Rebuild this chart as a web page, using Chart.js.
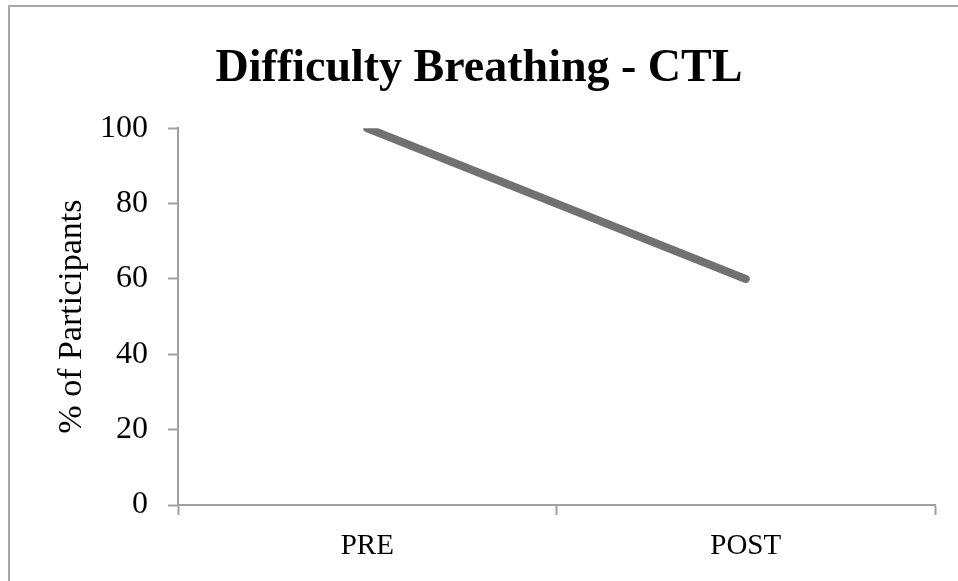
<!DOCTYPE html>
<html>
<head>
<meta charset="utf-8">
<script src="https://cdn.jsdelivr.net/npm/chart.js@4"></script>
<style>
  html, body { margin: 0; padding: 0; background: #fff; }
  #wrap { width: 958px; height: 581px; position: relative; }
</style>
</head>
<body>
<div id="wrap"><canvas id="chart"></canvas></div>
<script>
// chart data
const categories = ['PRE', 'POST'];
const participantPct = [100, 60];
const yTicks = [0, 20, 40, 60, 80, 100];

const axisGray = '#a0a0a0';
const serif = "'Liberation Serif', 'DejaVu Serif', serif";

// outer frame of the chart object (only top/left edges show in the crop)
const framePlugin = {
  id: 'frame',
  beforeDraw(chart) {
    const ctx = chart.ctx;
    ctx.save();
    ctx.strokeStyle = '#a6a6a6';
    ctx.lineWidth = 2;
    ctx.strokeRect(9, 6, 1000, 1000);
    ctx.restore();
  }
};

new Chart(document.getElementById('chart'), {
  type: 'line',
  data: {
    labels: categories,
    datasets: [{
      label: 'Difficulty Breathing',
      data: participantPct,
      borderColor: '#717171',
      borderWidth: 8,
      borderCapStyle: 'round',
      pointRadius: 0,
      tension: 0,
      fill: false
    }]
  },
  options: {
    responsive: true,
    maintainAspectRatio: false,
    animation: false,
    layout: { padding: { left: 23, right: 23, top: 0, bottom: 0 } },
    plugins: {
      legend: { display: false },
      tooltip: { enabled: false },
      title: {
        display: true,
        text: 'Difficulty Breathing - CTL',
        color: '#000',
        font: { family: serif, size: 46, weight: 'bold' },
        padding: { top: 42, bottom: 31 }
      }
    },
    scales: {
      x: {
        offset: true,
        grid: {
          offset: true,
          drawOnChartArea: false,
          drawTicks: true,
          tickLength: 10,
          tickWidth: 2,
          color: axisGray
        },
        border: { color: axisGray, width: 2 },
        ticks: {
          color: '#000',
          padding: 14,
          font: { family: serif, size: 29 }
        },
        afterFit(scale) { scale.height = 76; }
      },
      y: {
        min: 0,
        max: 100,
        afterBuildTicks(scale) { scale.ticks = yTicks.map(v => ({ value: v })); },
        grid: {
          drawOnChartArea: false,
          tickLength: 10,
          tickWidth: 2,
          color: axisGray
        },
        border: { color: axisGray, width: 2 },
        ticks: {
          color: '#000',
          padding: 20,
          font: { family: serif, size: 32 }
        },
        title: {
          display: true,
          text: '% of Participants',
          color: '#000',
          padding: { top: 29, bottom: 0 },
          font: { family: serif, size: 34 }
        },
        afterFit(scale) { scale.width = 155; }
      }
    }
  },
  plugins: [framePlugin]
});
</script>
</body>
</html>
